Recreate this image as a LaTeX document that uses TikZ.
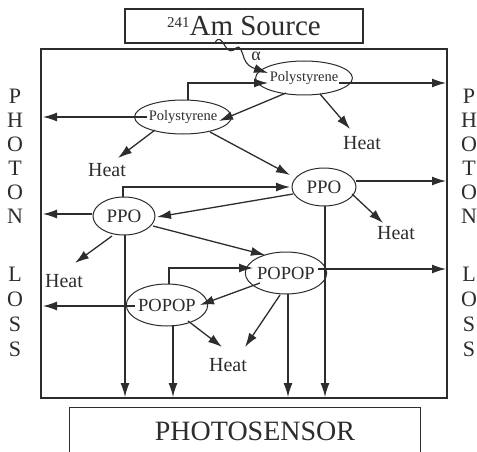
\documentclass[tikz,border=0pt]{standalone}
\usepackage{fontspec}
\setmainfont{Liberation Serif}
\usetikzlibrary{shapes.geometric,arrows.meta,calc}
\definecolor{ink}{RGB}{45,45,45}
\begin{document}
\begin{tikzpicture}[x=1pt,y=-1pt,
  every node/.style={text=ink},
  ell/.style={ellipse,draw=ink,line width=1pt,inner sep=0pt},
  arr/.style={draw=ink,line width=1.3pt,-{Latex[length=14pt,width=9pt]}},
  ln/.style={draw=ink,line width=1.1pt},
  heat/.style={font=\fontsize{20}{20}\selectfont,inner sep=0pt},
  lett/.style={font=\fontsize{22}{22}\selectfont,inner sep=0pt},
  psty/.style={font=\fontsize{14.5}{14.5}\selectfont},
  big/.style={font=\fontsize{19}{19}\selectfont}]
\useasboundingbox (0,0) rectangle (477,452);
\fill[white] (0,0) rectangle (477,452);

% boxes
\node[draw=ink,line width=1.1pt,minimum width=238pt,minimum height=34pt,inner sep=0pt,
  font=\fontsize{29}{29}\selectfont] (src) at (244,26)
  {{\fontsize{15}{15}\selectfont\raisebox{8pt}{241}}Am Source};
\draw[ln] (41,49) rectangle (447,398);
\node[draw=ink,line width=1.1pt,minimum width=351pt,minimum height=60pt,anchor=north west,inner sep=0pt] (sensor) at (69,407) {};
\node[font=\fontsize{28}{28}\selectfont,inner sep=0pt] (sensortxt) at (255,431) {PHOTOSENSOR};

% ellipses
\node[ell,psty,minimum width=70pt,minimum height=34pt] (ps1) at (304,78) {Polystyrene};
\node[ell,psty,minimum width=72pt,minimum height=34pt] (ps2) at (183,117) {Polystyrene};
\node[ell,big,minimum width=64pt,minimum height=38pt] (ppo1) at (324,187) {PPO};
\node[ell,big,minimum width=62pt,minimum height=38pt] (ppo2) at (124,216) {PPO};
\node[ell,font=\fontsize{18.5}{18.5}\selectfont,minimum width=64pt,minimum height=42pt] (pop1) at (286,273) {POPOP};
\node[ell,font=\fontsize{18.5}{18.5}\selectfont,minimum width=64pt,minimum height=42pt] (pop2) at (167,305) {POPOP};

% heat labels
\node[heat] (h1) at (362,143) {Heat};
\node[heat] (h2) at (107,170) {Heat};
\node[heat] (h3) at (396,233) {Heat};
\node[heat] (h4) at (64,281) {Heat};
\node[heat] (h5) at (228,365) {Heat};

% photon loss letters
\foreach \c [count=\i] in {P,H,O,T,O,N} {
  \node[lett] (lp\i) at (15,{96+24*(\i-1)}) {\c};
  \node[lett] (rp\i) at (469,{96+24*(\i-1)}) {\c};
}
\foreach \c [count=\i] in {L,O,S,S} {
  \node[lett] (ll\i) at (15,{274+25*(\i-1)}) {\c};
  \node[lett] (rl\i) at (469,{274+25*(\i-1)}) {\c};
}

% wall coordinates
\coordinate (r1) at (446,83);
\coordinate (r2) at (446,181);
\coordinate (r3) at (446,269);
\coordinate (l1) at (43,117);
\coordinate (l2) at (43,214);
\coordinate (l3) at (43,306);
\coordinate (b1) at (125,397);
\coordinate (b2) at (173,397);
\coordinate (b3) at (288,397);
\coordinate (b4) at (325,397);
\coordinate (sq0) at (215,43);

% alpha squiggle
\draw[arr,line width=1.1pt] (sq0) .. controls (218,36) and (222,40) .. (225,46)
  .. controls (228,52) and (233,52) .. (236,48)
  .. controls (240,44) and (242,52) .. (244,58)
  .. controls (246,64) and (250,67) .. ($(ps1)+(-36,-5)$);
\node[font=\fontsize{18}{18}\selectfont,inner sep=0pt] (alpha) at (256,56) {α};

% polystyrene 1
\draw[arr] ($(ps1)+(35,5)$) -- (r1);
\draw[arr] ($(ps1)+(-18,15)$) -- ($(ps2)+(36,4)$);
\draw[arr] ($(ps1)+(16,16)$) -- ($(h1)+(-12,-14)$);
% polystyrene 2
\draw[arr] ($(ps2)+(5,-17)$) |- ($(ps1)+(-36,5)$);
\draw[arr] ($(ps2)+(-36,0)$) -- (l1);
\draw[arr] ($(ps2)+(-28,13)$) -- ($(h2)+(11,-12)$);
\draw[arr] ($(ps2)+(27,15)$) -- ($(ppo1)+(-34,-12)$);
% PPO 1
\draw[arr] ($(ppo1)+(32,-6)$) -- (r2);
\draw[arr] ($(ppo1)+(28,7)$) -- ($(h3)+(-13,-10)$);
\draw[arr] ($(ppo1)+(-31,7)$) -- ($(ppo2)+(33,1)$);
\draw[arr] ($(ppo1)+(1,19)$) -- (b4);
% PPO 2
\draw[arr] ($(ppo2)+(-1,-19)$) |- ($(ppo1)+(-34,0)$);
\draw[arr] ($(ppo2)+(-32,-2)$) -- (l2);
\draw[arr] ($(ppo2)+(-12,20)$) -- ($(h4)+(11,-18)$);
\draw[arr] ($(ppo2)+(29,10)$) -- ($(pop1)+(-21,-18)$);
\draw[arr] ($(ppo2)+(1,19)$) -- (b1);
% POPOP 1
\draw[arr] ($(pop1)+(32,-4)$) -- (r3);
\draw[arr] ($(pop1)+(-26,10)$) -- ($(pop2)+(33,0)$);
\draw[arr] ($(pop1)+(2,21)$) -- (b3);
\draw[arr] ($(pop1)+(-6,22)$) -- ($(h5)+(17,-18)$);
% POPOP 2
\draw[arr] ($(pop2)+(2,-21)$) |- ($(pop1)+(-33,-5)$);
\draw[arr] ($(pop2)+(-32,1)$) -- (l3);
\draw[arr] ($(pop2)+(6,20)$) -- (b2);
\draw[arr] ($(pop2)+(21,16)$) -- ($(h5)+(-6,-18)$);
\end{tikzpicture}
\end{document}
